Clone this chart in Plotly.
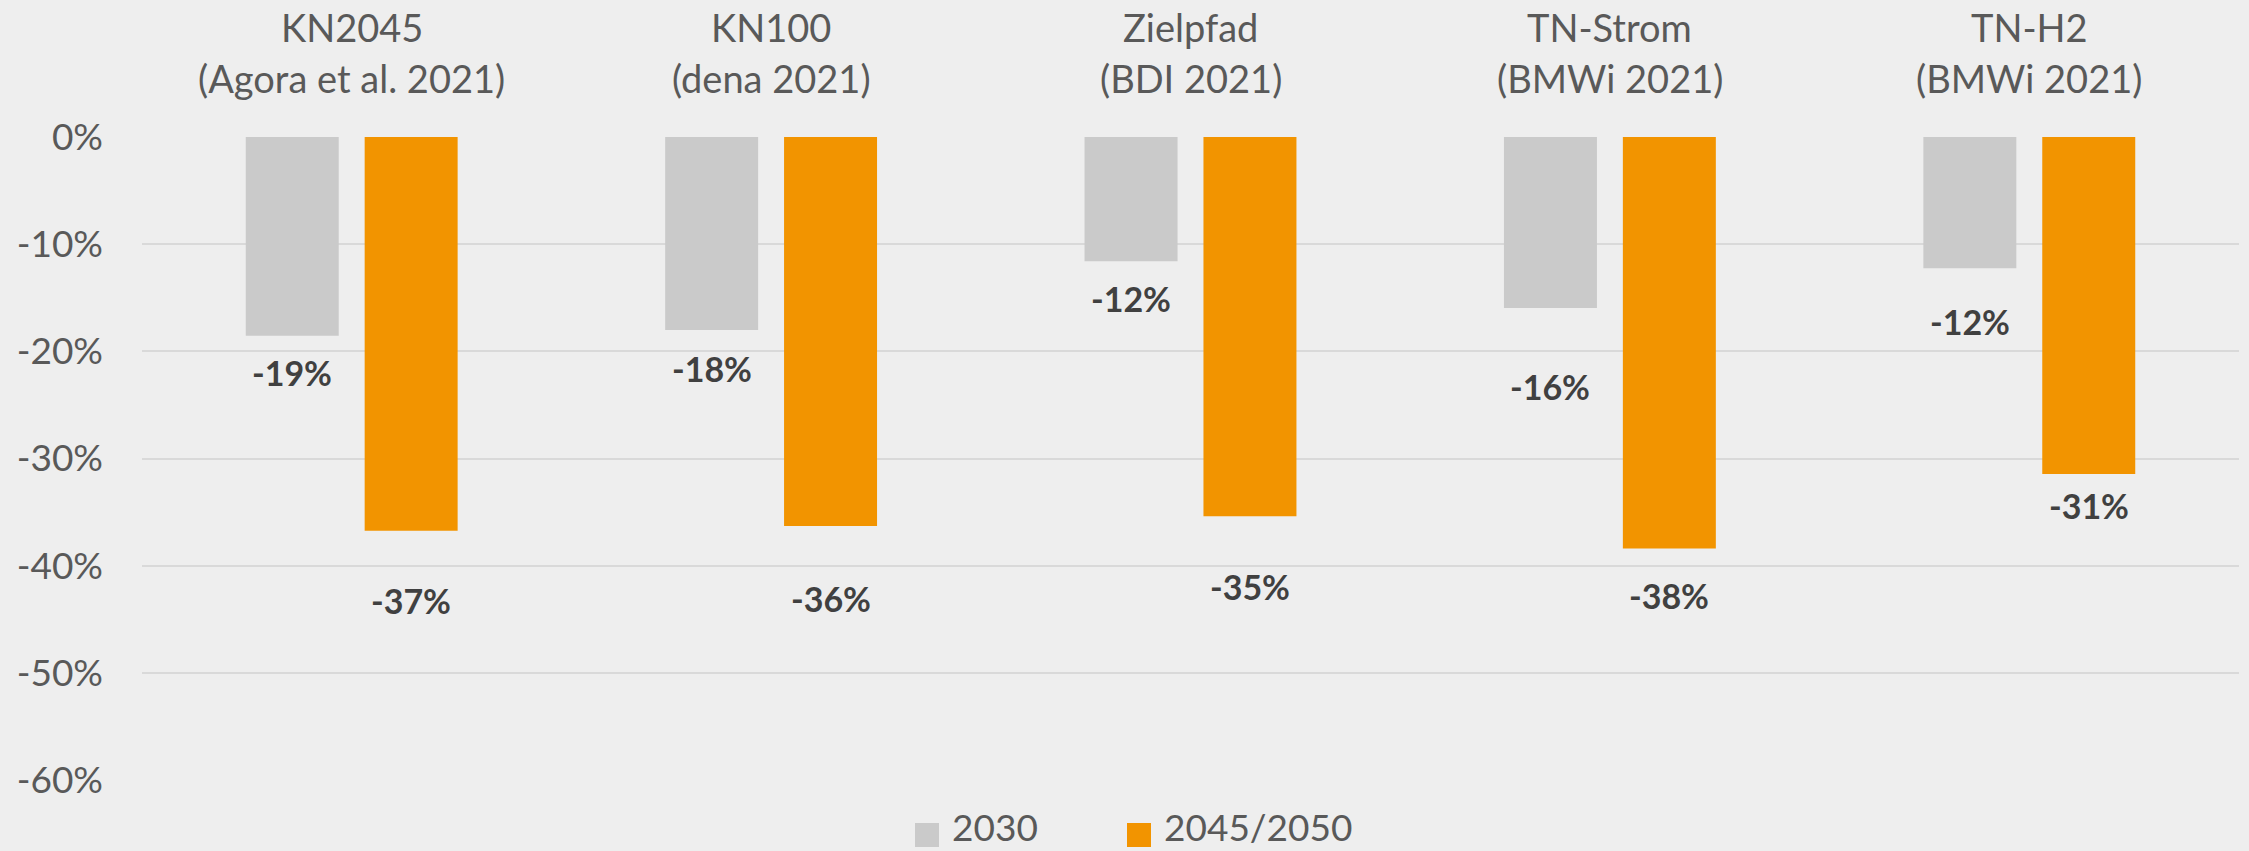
import plotly.graph_objects as go

# ---------------- data ----------------
categories = ["KN2045", "KN100", "Zielpfad", "TN-Strom", "TN-H2"]
sources = ["(Agora et al. 2021)", "(dena 2021)", "(BDI 2021)", "(BMWi 2021)", "(BMWi 2021)"]
series_names = ["2030", "2045/2050"]
values_2030 = [-18.55, -18.0, -11.6, -15.95, -12.25]
values_2045 = [-36.75, -36.3, -35.4, -38.4, -31.45]
y_tickvals = [0, -10, -20, -30, -40, -50, -60]
y_ticktext = ["0%", "-10%", "-20%", "-30%", "-40%", "-50%", "-60%"]

# ---------------- style ----------------
W, H = 2249, 851
ML, MR, MT, MB = 142, 10, 137, 71
PW, PH = W - ML - MR, H - MT - MB
BG = "#EEEEEE"
GRID = "#D9D9D9"
TXT = "#595959"
LBL = "#404040"
COL_2030 = "#CACACA"
COL_2045 = "#F29400"
FONT = "Lato"
# pixel distance of value labels below bar end (manual label placement)
label_offsets_2030 = [37, 39, 37, 79, 53]
label_offsets_2045 = [70, 72, 70, 47, 31]
BAR_SHIFT = 59.5  # px from category centre to bar centre


def px_x(p):
    return (p - ML) / PW


def px_y(p):
    return (H - MB - p) / PH


def pct_label(v):
    return f"{int(round(v - 0.0001))}%"


fig = go.Figure()
fig.add_trace(go.Bar(name=series_names[0], x=categories, y=values_2030,
                     marker=dict(color=COL_2030, line=dict(width=0)), showlegend=False))
fig.add_trace(go.Bar(name=series_names[1], x=categories, y=values_2045,
                     marker=dict(color=COL_2045, line=dict(width=0)), showlegend=False))

annotations = []
for i, cat in enumerate(categories):
    annotations.append(dict(x=cat, y=1, xref="x", yref="paper", text=cat, showarrow=False,
                            yanchor="middle", yshift=110,
                            font=dict(family=FONT, size=38, color=TXT)))
    annotations.append(dict(x=cat, y=1, xref="x", yref="paper", text=sources[i], showarrow=False,
                            yanchor="middle", yshift=59,
                            font=dict(family=FONT, size=38, color=TXT)))
    annotations.append(dict(x=cat, y=values_2030[i], xref="x", yref="y",
                            text=pct_label(values_2030[i]),
                            showarrow=False, xshift=-BAR_SHIFT, yshift=-label_offsets_2030[i],
                            yanchor="middle",
                            font=dict(family=FONT, size=34, color=LBL, weight="bold")))
    annotations.append(dict(x=cat, y=values_2045[i], xref="x", yref="y",
                            text=pct_label(values_2045[i]),
                            showarrow=False, xshift=BAR_SHIFT, yshift=-label_offsets_2045[i],
                            yanchor="middle",
                            font=dict(family=FONT, size=34, color=LBL, weight="bold")))

# manual legend (large square keys)
legend_items = [(series_names[0], COL_2030, 915), (series_names[1], COL_2045, 1127)]
shapes = []
for name, col, left in legend_items:
    shapes.append(dict(type="rect", xref="paper", yref="paper",
                       x0=px_x(left), x1=px_x(left + 24), y0=px_y(847), y1=px_y(823),
                       fillcolor=col, line=dict(width=0)))
    annotations.append(dict(x=px_x(left + 35), y=px_y(851), xref="paper", yref="paper",
                            text=name, showarrow=False, xanchor="left", yanchor="bottom",
                            font=dict(family=FONT, size=37, color=TXT)))

fig.update_layout(
    width=W, height=H,
    margin=dict(l=ML, r=MR, t=MT, b=MB, pad=0),
    paper_bgcolor=BG, plot_bgcolor=BG,
    barmode="group", bargap=0.433, bargroupgap=0.218,
    showlegend=False,
    annotations=annotations, shapes=shapes,
    font=dict(family=FONT, color=TXT),
)
fig.update_xaxes(showticklabels=False, showgrid=False, zeroline=False, showline=False,
                 ticks="", range=[-0.5, 4.5])
fig.update_yaxes(range=[-60, 0], tickvals=y_tickvals, ticktext=y_ticktext,
                 showgrid=True, gridcolor=GRID, gridwidth=2, zeroline=False, showline=False,
                 ticks="", ticklabelstandoff=38,
                 tickfont=dict(family=FONT, size=37, color=TXT))

fig.write_html("out.html", config={"displayModeBar": False},
               post_script="document.body.style.margin='0';document.body.style.overflow='hidden';")
